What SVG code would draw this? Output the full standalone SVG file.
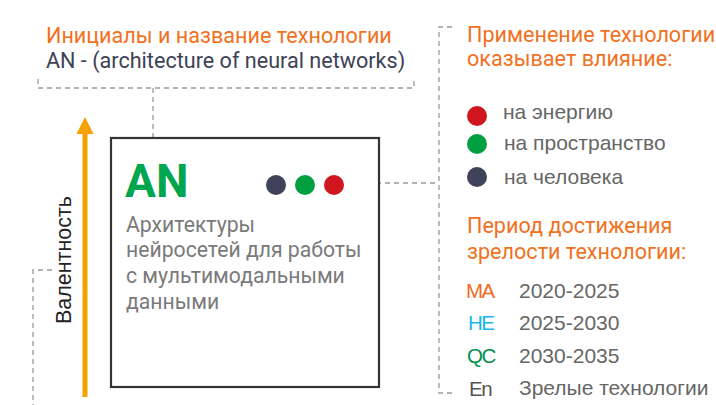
<svg xmlns="http://www.w3.org/2000/svg" width="716" height="405" viewBox="0 0 716 405">
<style>
.dash{fill:none;stroke:#9a9a9a;stroke-width:1.3;stroke-dasharray:5 4}
.h{font-family:Roboto,"Liberation Sans",sans-serif;font-size:21.6px;fill:#F07122}
.sub{font-family:Roboto,"Liberation Sans",sans-serif;font-size:21.6px;fill:#3d4256}
.lg{font-family:"Liberation Sans",Arial,sans-serif;font-size:21px;fill:#666}
.desc{font-family:Roboto,"Liberation Sans",sans-serif;font-size:21.2px;fill:#7a7a7a}
.code{font-family:"Liberation Sans",Arial,sans-serif;font-size:20.5px;letter-spacing:-1.5px}
</style>
<rect width="716" height="405" fill="#fff"/>
<g id="connectors">
<path class="dash" d="M38,79 V88 H414 V79"/>
<path class="dash" d="M153,88 V153"/>
<path class="dash" d="M452,27 H439 V393 H455"/>
<path class="dash" d="M358,183 H439"/>
<path class="dash" d="M52,270 H33 V405"/>
</g>
<g id="axis">
<rect x="82.5" y="132" width="5" height="265" fill="#F5A100"/>
<polygon points="85,117 76.5,134 93.5,134" fill="#F5A100"/>
<text transform="translate(71,260) rotate(-90)" text-anchor="middle" font-family="Liberation Sans,Arial,sans-serif" font-size="21.5" fill="#222">Валентность</text>
</g>
<g id="title">
<text class="h" x="46" y="43">Инициалы и название технологии</text>
<text class="sub" x="46" y="68">AN - (architecture of neural networks)</text>
</g>
<g id="card">
<rect x="111" y="138" width="268" height="249" fill="#fff" stroke="#333" stroke-width="2.2"/>
<text x="125" y="197" font-family="Roboto,'Liberation Sans',sans-serif" font-weight="bold" font-size="46" fill="#00A550">AN</text>
<circle cx="276" cy="185" r="10" fill="#3f4258"/>
<circle cx="305" cy="185" r="10" fill="#00A040"/>
<circle cx="334" cy="185" r="10" fill="#D0161E"/>
<text class="desc" x="126" y="232">Архитектуры</text>
<text class="desc" x="126" y="257">нейросетей для работы</text>
<text class="desc" x="126" y="283">с мультимодальными</text>
<text class="desc" x="126" y="309">данными</text>
</g>
<g id="legend-impact">
<text class="h" x="467" y="42">Применение технологии</text>
<text class="h" x="467" y="66">оказывает влияние:</text>
<circle cx="477" cy="116" r="10" fill="#D0161E"/>
<circle cx="477" cy="144" r="10" fill="#00A040"/>
<circle cx="477" cy="177" r="10" fill="#3f4258"/>
<text class="lg" x="503" y="119">на энергию</text>
<text class="lg" x="504" y="150">на пространство</text>
<text class="lg" x="504" y="184">на человека</text>
</g>
<g id="legend-period">
<text class="h" x="467" y="233">Период достижения</text>
<text class="h" x="467" y="259">зрелости технологии:</text>
<text class="code" x="466" y="298" fill="#F26B1D">MA</text>
<text class="code" x="468" y="330" fill="#19B5E8">HE</text>
<text class="code" x="467" y="363" fill="#00914C">QC</text>
<text class="code" x="469" y="396" fill="#555" letter-spacing="2">En</text>
<text class="lg" x="519" y="298">2020-2025</text>
<text class="lg" x="519" y="330">2025-2030</text>
<text class="lg" x="519" y="363">2030-2035</text>
<text class="lg" x="519" y="395">Зрелые технологии</text>
</g>
</svg>
